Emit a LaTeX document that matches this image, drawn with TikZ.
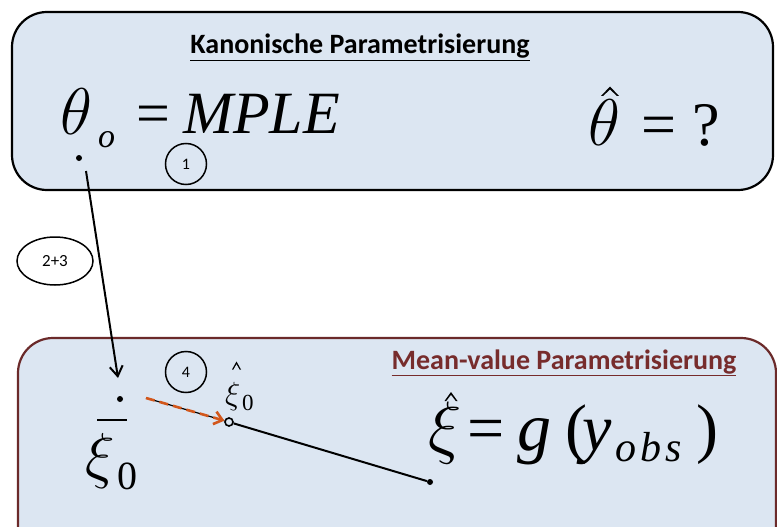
\RequirePackage{fix-cm}
\documentclass[tikz,border=0pt]{standalone}
\usepackage{fontspec}
\setmainfont{Liberation Serif}
\newfontfamily\carlitofont{Carlito}
\usetikzlibrary{arrows.meta,shapes.geometric}
\definecolor{boxfill}{HTML}{DCE6F2}
\definecolor{boxred}{HTML}{6B2A2A}
\definecolor{txtred}{HTML}{772C2C}
\definecolor{arrorange}{HTML}{D2571C}
\tikzset{
  panel/.style={fill=boxfill, line width=2.2pt, rounded corners=35pt},
  num/.style={draw, circle, line width=1.5pt, minimum size=41pt, inner sep=0pt, font=\carlitofont\fontsize{16}{16}\selectfont},
  title/.style={font=\carlitofont\bfseries\fontsize{28}{28}\selectfont, anchor=base, inner sep=0pt},
  math/.style={anchor=base west, inner sep=0pt},
  hatshape/.style={fill=black, line join=miter},
  pt/.style={circle, fill=black, inner sep=0pt, minimum size=6pt},
  conn/.style={line width=2pt, -{Straight Barb[length=10pt,width=13pt,line width=2pt]}}
}
\begin{document}
\begin{tikzpicture}[x=1pt,y=-1pt]
\useasboundingbox (0,0) rectangle (777,527);
\clip (0,0) rectangle (777,527);
% panels
\draw[panel, draw=black] (12,12) rectangle (773,190);
\draw[panel, draw=boxred] (18,338) rectangle (776,560);
% titles
\node[title] (t1) at (360,54) {\underline{Kanonische Parametrisierung}};
\node[title, text=txtred] (t2) at (564,369) {\underline{Mean-value Parametrisierung}};
% top formula
\node[math, font=\fontsize{66}{66}\selectfont] (th) at (60,134) {$\theta$};
\node[math, font=\itshape\fontsize{34}{34}\selectfont] (tho) at (98,147) {o};
\node[math, font=\fontsize{60}{60}\selectfont] (eqa) at (136,133) {=};
\node[math, font=\itshape\fontsize{60}{60}\selectfont] (mple) at (183,133) {MPLE};
\node[math, font=\fontsize{66}{66}\selectfont] (thh) at (588,146) {$\theta$};
\fill[hatshape] (601,96) -- (610,86.5) -- (619,96) -- (617,96) -- (610,89.5) -- (603,96) -- cycle;
\node[math, font=\fontsize{62}{62}\selectfont] (eqb) at (641,145) {=};
\node[math, font=\fontsize{62}{62}\selectfont] (qm) at (692,145) {?};
% points
\node[pt] (p0) at (79,158) {};
\node[num] (n1) at (186,164) {1};
\node[draw, ellipse, line width=1.5pt, minimum width=76pt, minimum height=48pt, inner sep=0pt, font=\carlitofont\fontsize{17}{17}\selectfont] (n23) at (55,261) {2+3};
\coordinate (a0) at (86,171);
\coordinate (a1) at (118,378);
\draw[conn] (a0) -- (a1);
% bottom
\node[pt] (p1) at (120,399) {};
\draw[line width=2pt] (97,420) -- (127,420);
\node[math, font=\fontsize{62}{62}\selectfont] (xi0) at (85,476) {$\xi$};
\node[math, font=\fontsize{40}{40}\selectfont] (xi0s) at (117,489) {0};
\node[num] (n4) at (186,372) {4};
\node[math, font=\fontsize{32}{32}\selectfont] (xh0) at (225,404) {$\xi$};
\fill[hatshape] (232,369.5) -- (236.5,361.5) -- (241,369.5) -- (239.6,369.5) -- (236.5,364) -- (233.4,369.5) -- cycle;
\node[math, font=\fontsize{23}{23}\selectfont] (xh0s) at (242,410) {0};
\node[circle, draw, line width=1.6pt, inner sep=0pt, minimum size=8pt] (c1) at (229,422) {};
\node[pt] (c2) at (430,482) {};
\draw[line width=2pt] (c1) -- (c2);
\coordinate (s0) at (146,398);
\draw[line width=1.2pt] (s0) -- (c1);
\draw[line width=2.6pt, arrorange, dash pattern=on 9pt off 5pt, -{Straight Barb[length=8pt,width=13pt,line width=2.6pt]}] (s0) -- (c1);
% xi hat = g(y_obs)
\node[math, font=\fontsize{70}{70}\selectfont] (xh) at (428,450) {$\xi$};
\fill[hatshape] (444.5,401) -- (451,392) -- (457.5,401) -- (455.8,401) -- (451,394.8) -- (446.2,401) -- cycle;
\node[math, font=\fontsize{66}{66}\selectfont] (geq) at (467,450) {=};
\node[math, font=\itshape\fontsize{68}{68}\selectfont] (gg) at (517,450) {g};
\node[math, font=\fontsize{66}{66}\selectfont] (lp) at (565,450) {(};
\node[math, font=\itshape\fontsize{66}{66}\selectfont] (yy) at (582,450) {y};
\node[math, font=\itshape\fontsize{42}{42}\selectfont] (obs) at (615,461) {o\kern4pt b\kern4pt s};
\node[math, font=\fontsize{66}{66}\selectfont] (rp) at (696,450) {)};
\end{tikzpicture}
\end{document}
